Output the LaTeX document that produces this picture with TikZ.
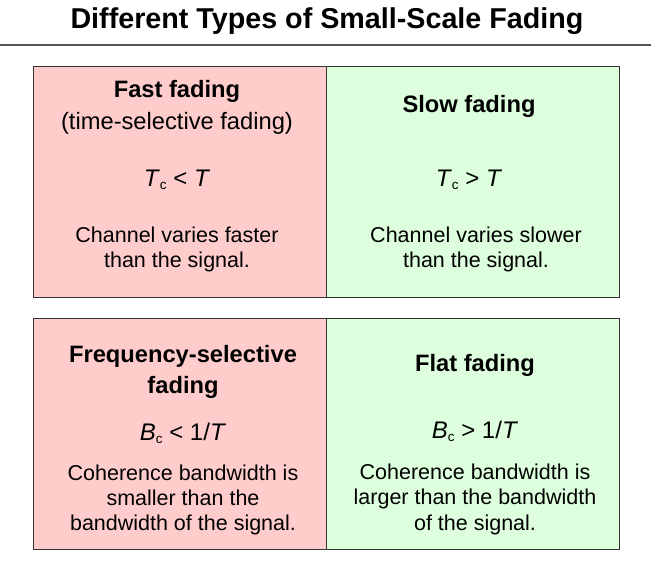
\documentclass[tikz,border=0pt]{standalone}
\usepackage{fontspec}
\setmainfont{Liberation Sans}
\definecolor{pinkc}{HTML}{FFCCCC}
\definecolor{greenc}{HTML}{DDFFDD}
\definecolor{edgec}{HTML}{333333}
\definecolor{rulec}{HTML}{555555}
\newcommand{\sbc}{\raisebox{-0.3ex}{\fontsize{13.5}{13.5}\selectfont c}}
\tikzset{
  cell/.style={draw=edgec, line width=1.2pt, minimum width=293pt, minimum height=231pt, inner sep=0pt, anchor=north west},
  titletxt/.style={anchor=base, inner sep=0pt, font=\fontsize{28.7}{32}\selectfont\bfseries},
  headtxt/.style={anchor=base, inner sep=0pt, font=\fontsize{23.7}{27}\selectfont\bfseries},
  subtxt/.style={anchor=base, inner sep=0pt, font=\fontsize{23.7}{27}\selectfont},
  eqtxt/.style={anchor=base, inner sep=0pt, font=\fontsize{24}{27}\selectfont},
  bodytxt/.style={anchor=base, inner sep=0pt, font=\fontsize{21.5}{25}\selectfont}
}
\begin{document}
\begin{tikzpicture}[x=1pt,y=-1pt]
\useasboundingbox (0,0) rectangle (651,566);
\node[titletxt] (title) at (327,28) {Different Types of Small-Scale Fading};
\coordinate (rl) at (0,45);
\coordinate (rr) at (651,45);
\draw[rulec, line width=1.5pt] (rl) -- (rr);
% boxes
\node[cell, fill=pinkc] (fast) at (33,66) {};
\node[cell, fill=greenc] (slow) at (326,66) {};
\node[cell, fill=pinkc] (freq) at (33,318) {};
\node[cell, fill=greenc] (flat) at (326,318) {};
% top-left
\node[headtxt] (fa1) at (177,97.5) {Fast fading};
\node[subtxt] (fa2) at (177,129) {(time-selective fading)};
\node[eqtxt] (fa3) at (177,186) {\textit{T}\sbc\ < \textit{T}};
\node[bodytxt] (fa4) at (177,242.5) {Channel varies faster};
\node[bodytxt] (fa5) at (177,267.5) {than the signal.};
% top-right
\node[headtxt] (sl1) at (469,112.5) {Slow fading};
\node[eqtxt] (sl3) at (469,186) {\textit{T}\sbc\ > \textit{T}};
\node[bodytxt] (sl4) at (476,242.5) {Channel varies slower};
\node[bodytxt] (sl5) at (476,267.5) {than the signal.};
% bottom-left
\node[headtxt] (fr1) at (183,362.5) {Frequency-selective};
\node[headtxt] (fr2) at (183,393) {fading};
\node[eqtxt] (fr3) at (183,440) {\textit{B}\sbc\ < 1/\textit{T}};
\node[bodytxt] (fr4) at (183,480.5) {Coherence bandwidth is};
\node[bodytxt] (fr5) at (183,505.5) {smaller than the};
\node[bodytxt] (fr6) at (183,530.5) {bandwidth of the signal.};
% bottom-right
\node[headtxt] (fl1) at (475,371.5) {Flat fading};
\node[eqtxt] (fl3) at (475,438) {\textit{B}\sbc\ > 1/\textit{T}};
\node[bodytxt] (fl4) at (475,479) {Coherence bandwidth is};
\node[bodytxt] (fl5) at (475,504.5) {larger than the bandwidth};
\node[bodytxt] (fl6) at (475,530) {of the signal.};
\end{tikzpicture}
\end{document}
